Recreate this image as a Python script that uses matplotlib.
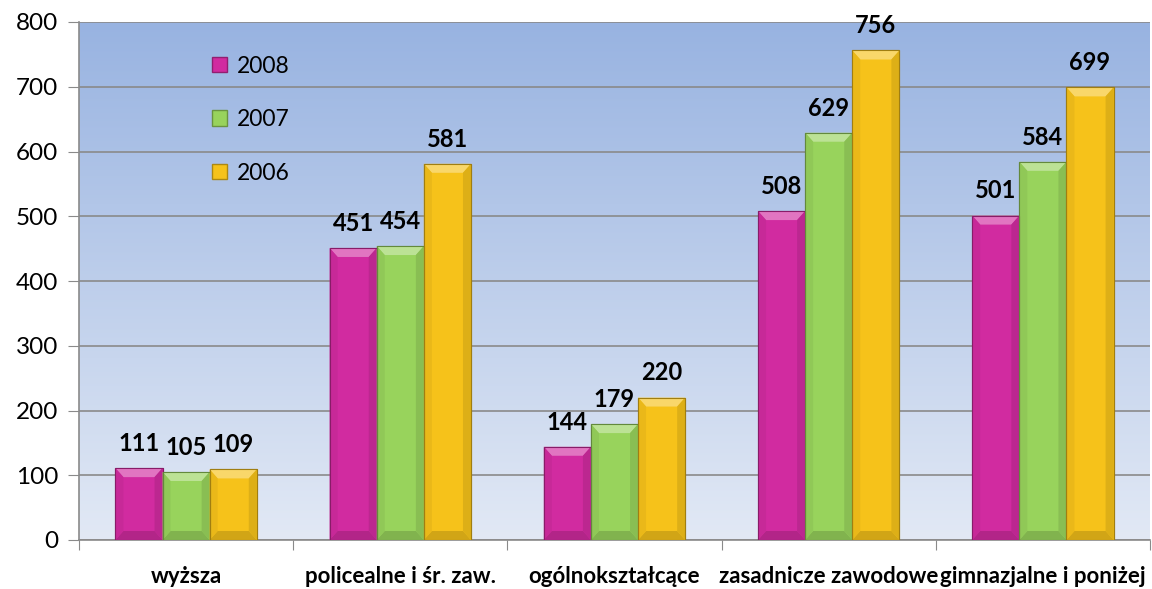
import numpy as np
import matplotlib
matplotlib.use("Agg")
import matplotlib.pyplot as plt
from matplotlib.patches import Polygon, Patch
import matplotlib.colors as mcolors

categories = ["wyższa", "policealne i śr. zaw.", "ogólnokształcące",
              "zasadnicze zawodowe", "gimnazjalne i poniżej"]
series_names = ["2008", "2007", "2006"]
v2008 = [111, 451, 144, 508, 501]
v2007 = [105, 454, 179, 629, 584]
v2006 = [109, 581, 220, 756, 699]
series_values = [v2008, v2007, v2006]
colors = ["#D12BA0", "#98D35C", "#F6C21A"]
yticks = [0, 100, 200, 300, 400, 500, 600, 700, 800]

plt.rcParams['font.family'] = ['Lato', 'DejaVu Sans']

fig = plt.figure(figsize=(11.52, 5.89), dpi=100)
ax = fig.add_axes([79/1152, 49/589, 1071/1152, 518/589])

# gradient background
grad = np.linspace(0, 1, 256).reshape(-1, 1)
cmap = mcolors.LinearSegmentedColormap.from_list("bg", ["#98B3E1", "#E2E9F5"])
ax.imshow(grad, extent=[0, 1, 0, 1], transform=ax.transAxes, cmap=cmap,
          aspect='auto', zorder=0, origin='upper')

n = len(categories)
ax.set_xlim(0, n)
ax.set_ylim(0, 800)
ax.set_yticks(yticks)
ax.set_yticklabels([str(t) for t in yticks], fontsize=17.5)
ax.grid(axis='y', color='#8A8A8A', linewidth=1.2, zorder=1)
ax.set_axisbelow(True)

x = np.arange(n) + 0.5
bw = 0.22
offsets = [-bw, 0, bw]

fig.canvas.draw()
p0 = ax.transData.transform((0, 0))
p1 = ax.transData.transform((1, 100))
px_x = (p1[0] - p0[0])
px_y = (p1[1] - p0[1]) / 100.0

def lighten(c, f):
    r, g, b = mcolors.to_rgb(c)
    return (r + (1 - r) * f, g + (1 - g) * f, b + (1 - b) * f)

def darken(c, f):
    r, g, b = mcolors.to_rgb(c)
    return (r * (1 - f), g * (1 - f), b * (1 - f))

bx = 8 / px_x
by = 9 / px_y
for vals, col, off in zip(series_values, colors, offsets):
    bars = ax.bar(x + off, vals, width=bw, color=col, edgecolor=darken(col, 0.35),
                  linewidth=0.8, zorder=3)
    for rect, v in zip(bars, vals):
        x0 = rect.get_x(); x1 = x0 + rect.get_width(); h = rect.get_height()
        ax.add_patch(Polygon([(x0, h), (x1, h), (x1 - bx, h - by), (x0 + bx, h - by)],
                             closed=True, facecolor=lighten(col, 0.35), edgecolor='none', zorder=4))
        ax.add_patch(Polygon([(x0, 0), (x1, 0), (x1 - bx, by), (x0 + bx, by)],
                             closed=True, facecolor=darken(col, 0.15), edgecolor='none', zorder=4))
        ax.add_patch(Polygon([(x0, 0), (x0 + bx, by), (x0 + bx, h - by), (x0, h)],
                             closed=True, facecolor=darken(col, 0.05), edgecolor='none', zorder=4))
        ax.add_patch(Polygon([(x1, 0), (x1 - bx, by), (x1 - bx, h - by), (x1, h)],
                             closed=True, facecolor=darken(col, 0.10), edgecolor='none', zorder=4))
        ax.add_patch(Polygon([(x0, 0), (x1, 0), (x1, h), (x0, h)], closed=True,
                             facecolor='none', edgecolor=darken(col, 0.35), linewidth=0.8, zorder=5))
        ax.annotate(str(v), (x0 + rect.get_width() / 2, h), xytext=(0, 9.5),
                    textcoords='offset points', ha='center', va='bottom',
                    fontsize=17, fontweight='bold', color='black', zorder=6,
                    annotation_clip=False)

ax.set_xticks(np.arange(0, n + 1))
ax.set_xticklabels([])
ax.set_xticks(x, minor=True)
ax.set_xticklabels(categories, minor=True, fontsize=16, fontweight='bold')
ax.tick_params(axis='x', which='minor', length=0, pad=19)
ax.tick_params(axis='x', which='major', length=7, color='#8A8A8A', direction='out')
ax.tick_params(axis='y', length=8, color='#8A8A8A', direction='out', pad=7)

for s in ['top', 'right']:
    ax.spines[s].set_visible(False)
for s in ['left', 'bottom']:
    ax.spines[s].set_color('#8A8A8A')
    ax.spines[s].set_linewidth(1.2)

handles = [Patch(facecolor=c, edgecolor=darken(c, 0.3)) for c in colors]
leg = ax.legend(handles, series_names, loc='upper left', bbox_to_anchor=(0.105, 0.975),
                frameon=False, fontsize=16.5, handlelength=0.65, handleheight=0.65,
                labelspacing=1.42, handletextpad=0.45)

fig.savefig("out.png", dpi=100)
